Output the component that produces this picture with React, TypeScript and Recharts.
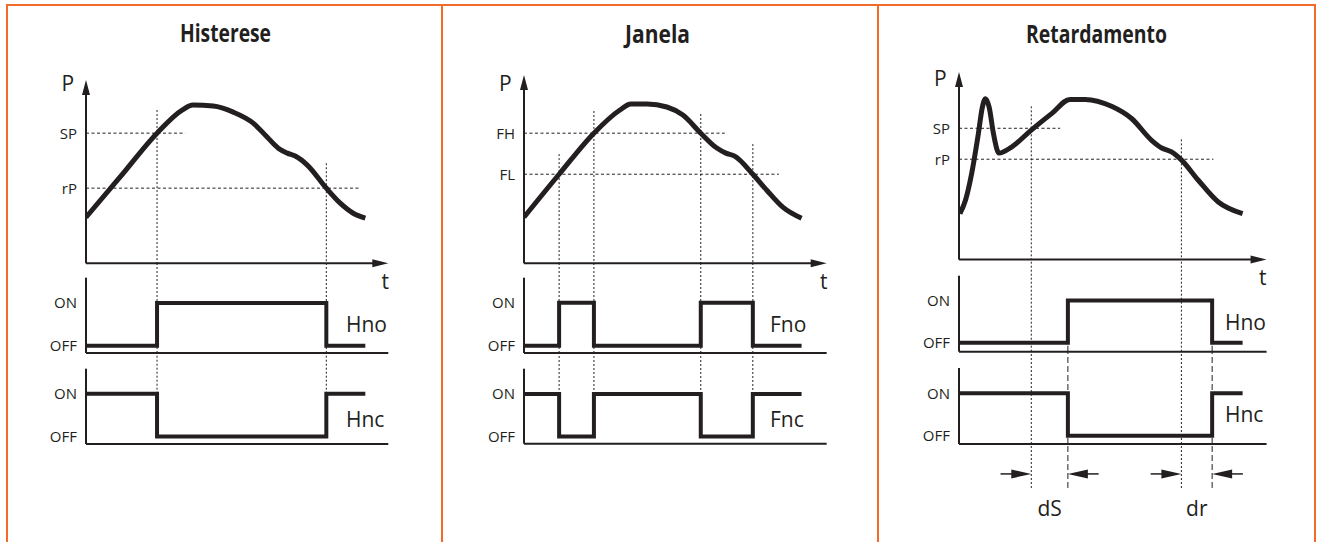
import React from 'react';
import { LineChart, Line, XAxis, YAxis, ReferenceLine } from 'recharts';

const INK = '#231f20';
const ORANGE = '#f26b2a';
const FONT = "'Open Sans', 'Noto Sans', Arial, sans-serif";

// ---------------- data ----------------
const titles = ['Histerese', 'Janela', 'Retardamento'];

// Histerese
const histCurve = [
  { t: 0, p: 25.1 }, { t: 11.3, p: 47.1 }, { t: 23.5, p: 71.0 }, { t: 31.8, p: 83.6 },
  { t: 35.4, p: 86.3 }, { t: 42.1, p: 85.8 }, { t: 48.7, p: 82.5 }, { t: 55.3, p: 76.5 },
  { t: 59.9, p: 68.9 }, { t: 63.6, p: 62.8 }, { t: 66.6, p: 60.1 }, { t: 69.2, p: 58.5 },
  { t: 73.2, p: 53.6 }, { t: 79.5, p: 41.0 }, { t: 84.1, p: 32.8 }, { t: 88.4, p: 27.3 },
  { t: 92.4, p: 24.6 },
];
const histLevels = [{ label: 'SP', p: 71.0, end: 32.8 }, { label: 'rP', p: 41.0, end: 90.7 }];
const histSwitches = [{ t: 23.5, top: 83.6 }, { t: 79.5, top: 54.6 }];
const histNo = [{ t: 0, v: 0 }, { t: 23.5, v: 1 }, { t: 79.5, v: 0 }, { t: 92.4, v: 0 }];
const histNc = [{ t: 0, v: 1 }, { t: 23.5, v: 0 }, { t: 79.5, v: 1 }, { t: 92.4, v: 1 }];
const histOutputs = ['Hno', 'Hnc'];

// Janela
const janCurve = [
  { t: 0, p: 24.5 }, { t: 11.6, p: 47.3 }, { t: 23.1, p: 69.1 }, { t: 31.7, p: 81.4 },
  { t: 35.3, p: 84.6 }, { t: 40.6, p: 84.6 }, { t: 47.2, p: 83.0 }, { t: 52.5, p: 78.7 },
  { t: 58.4, p: 69.1 }, { t: 63.7, p: 61.2 }, { t: 66.7, p: 58.5 }, { t: 69.6, p: 56.9 },
  { t: 75.6, p: 47.3 }, { t: 80.2, p: 38.8 }, { t: 85.5, p: 29.8 }, { t: 91.7, p: 23.9 },
];
const janLevels = [{ label: 'FH', p: 69.1, end: 66.3 }, { label: 'FL', p: 47.3, end: 84.2 }];
const janSwitches = [
  { t: 11.6, top: 58.0 }, { t: 23.1, top: 80.9 }, { t: 58.4, top: 79.3 }, { t: 75.6, top: 63.3 },
];
const janNo = [
  { t: 0, v: 0 }, { t: 11.6, v: 1 }, { t: 23.1, v: 0 }, { t: 58.4, v: 1 }, { t: 75.6, v: 0 }, { t: 91.7, v: 0 },
];
const janNc = [
  { t: 0, v: 1 }, { t: 11.6, v: 0 }, { t: 23.1, v: 1 }, { t: 58.4, v: 0 }, { t: 75.6, v: 1 }, { t: 91.7, v: 1 },
];
const janOutputs = ['Fno', 'Fnc'];

// Retardamento
const retCurve = [
  { t: 0.3, p: 24.5 }, { t: 2.1, p: 31.6 }, { t: 4.1, p: 45.8 }, { t: 6.3, p: 67.2 },
  { t: 7.6, p: 81.3 }, { t: 8.6, p: 85.8 }, { t: 9.8, p: 81.3 }, { t: 11.2, p: 67.2 },
  { t: 13.0, p: 56.8 }, { t: 17.1, p: 60.0 }, { t: 23.4, p: 68.9 }, { t: 30.1, p: 77.8 },
  { t: 36.1, p: 85.4 }, { t: 41.0, p: 85.4 }, { t: 49.6, p: 81.7 }, { t: 56.1, p: 75.2 },
  { t: 62.6, p: 63.6 }, { t: 65.9, p: 59.5 }, { t: 69.1, p: 57.4 }, { t: 72.2, p: 53.3 },
  { t: 77.8, p: 42.3 }, { t: 84.3, p: 30.7 }, { t: 92.2, p: 24.5 },
];
const retLevels = [{ label: 'SP', p: 70.0, end: 32.9 }, { label: 'rP', p: 53.5, end: 82.7 }];
const retSwitches = [{ t: 23.5, top: 81.7 }, { t: 72.3, top: 64.1 }];
const retDelayed = [35.4, 82.3];
const retNo = [{ t: 0, v: 0 }, { t: 35.4, v: 1 }, { t: 82.3, v: 0 }, { t: 92.2, v: 0 }];
const retNc = [{ t: 0, v: 1 }, { t: 35.4, v: 0 }, { t: 82.3, v: 1 }, { t: 92.2, v: 1 }];
const retDelays = [
  { t: 29.45, name: 'dS', from: 23.5, to: 35.4 },
  { t: 77.3, name: 'dr', from: 72.3, to: 82.3 },
];
const retOutputs = ['Hno', 'Hnc'];

// ---------------- layout ----------------
type Band = { top: number; bottom: number; on: number; off: number; axisTop: number };
type Layout = {
  x0: number; x1: number; top: number; axisY: number; no: Band; nc: Band;
  title: { cx: number; y: number; w: number };
  pLabel: { x: number; y: number }; tLabel: { x: number; y: number };
  noLabel: { x: number; y: number }; ncLabel: { x: number; y: number };
  delay?: { bottom: number; arrowLevel: number };
};

const AXIS_W = 70;
const ARROW_TAIL = 10;
const TICK_SIZE = 15;

const layouts: Layout[] = [
  {
    x0: 86, x1: 388.3, top: 80, axisY: 263.3,
    no: { top: 263.3, bottom: 353.3, on: 303.3, off: 346, axisTop: 278 },
    nc: { top: 353.3, bottom: 444.3, on: 394, off: 436.7, axisTop: 369 },
    title: { cx: 225.5, y: 42, w: 91 },
    pLabel: { x: 61.5, y: 91 }, tLabel: { x: 381.5, y: 289 },
    noLabel: { x: 346, y: 332 }, ncLabel: { x: 346, y: 427 },
  },
  {
    x0: 524, x1: 826.7, top: 75, axisY: 263.3,
    no: { top: 263.3, bottom: 353.3, on: 303, off: 346, axisTop: 278 },
    nc: { top: 353.3, bottom: 444, on: 394.3, off: 436.7, axisTop: 369 },
    title: { cx: 657.5, y: 42.5, w: 65 },
    pLabel: { x: 499, y: 91 }, tLabel: { x: 820, y: 289 },
    noLabel: { x: 770, y: 332 }, ncLabel: { x: 770, y: 427 },
  },
  {
    x0: 958.7, x1: 1266.3, top: 71.7, axisY: 259.3,
    no: { top: 259.3, bottom: 352, on: 300.7, off: 343, axisTop: 276 },
    nc: { top: 352, bottom: 444, on: 393.3, off: 435.7, axisTop: 368 },
    title: { cx: 1096.5, y: 42.5, w: 141 },
    pLabel: { x: 934, y: 86 }, tLabel: { x: 1259, y: 285 },
    noLabel: { x: 1225, y: 330 }, ncLabel: { x: 1225, y: 422 },
    delay: { bottom: 488, arrowLevel: 0.32 },
  },
];

// ---------------- shapes ----------------
const arrowShape = (headLen: number, headW: number, sw: number) => (props: any) => {
  const { x1, y1, x2, y2 } = props;
  const dx = x2 - x1;
  const dy = y2 - y1;
  const len = Math.hypot(dx, dy) || 1;
  const ux = dx / len;
  const uy = dy / len;
  const bx = x2 - ux * headLen;
  const by = y2 - uy * headLen;
  const px = (-uy * headW) / 2;
  const py = (ux * headW) / 2;
  return (
    <g>
      <line x1={x1} y1={y1} x2={bx + ux * 1} y2={by + uy * 1} stroke={INK} strokeWidth={sw} />
      <polygon points={`${x2},${y2} ${bx + px},${by + py} ${bx - px},${by - py}`} fill={INK} />
    </g>
  );
};

const makeTick = (fmt: (v: number) => string, size: number, vertical: boolean) => (props: any) => {
  const { x, y, payload } = props;
  return (
    <text
      x={x}
      y={y}
      dy={vertical ? '0.36em' : '0.71em'}
      textAnchor={vertical ? 'end' : 'middle'}
      fontSize={size}
      fill={INK}
      fontFamily={FONT}
    >
      {fmt(payload.value)}
    </text>
  );
};

type PanelData = {
  curve: { t: number; p: number }[];
  levels: { label: string; p: number; end: number }[];
  switches: { t: number; top: number }[];
  no: { t: number; v: number }[];
  nc: { t: number; v: number }[];
  delayed?: number[];
  delays?: { t: number; name: string; from: number; to: number }[];
};

function CurveChart({ L, d }: { L: Layout; d: PanelData }) {
  const fmt = (v: number) => d.levels.find((l) => l.p === v)?.label ?? '';
  return (
    <div style={{ position: 'absolute', left: L.x0 - AXIS_W, top: L.top }}>
      <LineChart
        width={AXIS_W + L.x1 - L.x0}
        height={L.axisY - L.top}
        data={d.curve}
        margin={{ top: 0, right: 0, bottom: 0, left: 0 }}
      >
        <XAxis type="number" dataKey="t" domain={[0, 100]} hide allowDataOverflow />
        <YAxis
          type="number"
          domain={[0, 100]}
          allowDataOverflow
          width={AXIS_W}
          ticks={d.levels.map((l) => l.p)}
          interval={0}
          axisLine={false}
          tickLine={false}
          tickSize={0}
          tickMargin={9}
          tick={makeTick(fmt, TICK_SIZE, true)}
        />
        {d.levels.map((l) => (
          <ReferenceLine
            key={l.label}
            segment={[{ x: 0, y: l.p }, { x: l.end, y: l.p }]}
            stroke={INK}
            strokeWidth={1}
            strokeDasharray="3 2.5"
            ifOverflow="visible"
          />
        ))}
        {d.switches.map((s) => (
          <ReferenceLine
            key={'s' + s.t}
            segment={[{ x: s.t, y: s.top }, { x: s.t, y: 0 }]}
            stroke={INK}
            strokeWidth={1}
            strokeDasharray="2 2"
            ifOverflow="visible"
          />
        ))}
        <ReferenceLine segment={[{ x: 0, y: 0 }, { x: 0, y: 100 }]} shape={arrowShape(15, 8, 2)} ifOverflow="visible" />
        <ReferenceLine segment={[{ x: 0, y: 0 }, { x: 100, y: 0 }]} shape={arrowShape(16, 8, 2)} ifOverflow="visible" />
        <Line
          dataKey="p"
          type="monotone"
          stroke={INK}
          strokeWidth={5}
          dot={false}
          activeDot={false}
          isAnimationActive={false}
        />
      </LineChart>
    </div>
  );
}

function StepChart({
  L, band, data, switches, switchEnd, delayed, delayedFromOff,
}: {
  L: Layout; band: Band; data: { t: number; v: number }[]; switches: number[];
  switchEnd: 'full' | 'on'; delayed?: number[]; delayedFromOff?: boolean;
}) {
  const unit = band.off - band.on;
  const min = -(band.bottom - band.off) / unit;
  const max = (band.off - band.top) / unit;
  const axisTop = (band.off - band.axisTop) / unit;
  const fmt = (v: number) => (v === 1 ? 'ON' : 'OFF');
  return (
    <div style={{ position: 'absolute', left: L.x0 - AXIS_W, top: band.top }}>
      <LineChart
        width={AXIS_W + L.x1 - L.x0}
        height={band.bottom - band.top}
        data={data}
        margin={{ top: 0, right: 0, bottom: 0, left: 0 }}
      >
        <XAxis type="number" dataKey="t" domain={[0, 100]} hide allowDataOverflow />
        <YAxis
          type="number"
          domain={[min, max]}
          allowDataOverflow
          width={AXIS_W}
          ticks={[0, 1]}
          interval={0}
          axisLine={false}
          tickLine={false}
          tickSize={0}
          tickMargin={9}
          tick={makeTick(fmt, TICK_SIZE, true)}
        />
        {switches.map((t) => (
          <ReferenceLine
            key={'s' + t}
            segment={[{ x: t, y: switchEnd === 'on' ? 1 : min }, { x: t, y: max }]}
            stroke={INK}
            strokeWidth={1}
            strokeDasharray="2 2"
            ifOverflow="visible"
          />
        ))}
        {(delayed ?? []).map((t) => (
          <ReferenceLine
            key={'d' + t}
            segment={[{ x: t, y: min }, { x: t, y: delayedFromOff ? 0 : max }]}
            stroke={INK}
            strokeWidth={1}
            strokeDasharray="6 3"
            ifOverflow="visible"
          />
        ))}
        <ReferenceLine segment={[{ x: 0, y: min }, { x: 0, y: axisTop }]} stroke={INK} strokeWidth={2} ifOverflow="visible" />
        <ReferenceLine segment={[{ x: 0, y: min }, { x: 100, y: min }]} stroke={INK} strokeWidth={2} ifOverflow="visible" />
        <Line
          dataKey="v"
          type="stepAfter"
          stroke={INK}
          strokeWidth={4}
          strokeLinejoin="miter"
          strokeLinecap="butt"
          dot={false}
          activeDot={false}
          isAnimationActive={false}
        />
      </LineChart>
    </div>
  );
}

function DelayChart({ L, d }: { L: Layout; d: PanelData }) {
  const dl = L.delay!;
  const h = dl.bottom - L.nc.bottom;
  const delays = d.delays ?? [];
  const fmt = (v: number) => delays.find((x) => x.t === v)?.name ?? '';
  return (
    <div style={{ position: 'absolute', left: L.x0 - AXIS_W, top: L.nc.bottom }}>
      <LineChart
        width={AXIS_W + L.x1 - L.x0}
        height={h + 36}
        data={delays}
        margin={{ top: 0, right: 0, bottom: 0, left: 0 }}
      >
        <XAxis
          type="number"
          dataKey="t"
          domain={[0, 100]}
          allowDataOverflow
          ticks={delays.map((x) => x.t)}
          interval={0}
          axisLine={false}
          tickLine={false}
          tickSize={0}
          tickMargin={13}
          height={36}
          tick={makeTick(fmt, 21, false)}
        />
        <YAxis
          type="number"
          domain={[0, 1]}
          allowDataOverflow
          width={AXIS_W}
          tick={false}
          axisLine={false}
          tickLine={false}
        />
        <Line
          dataKey={() => dl.arrowLevel}
          stroke="none"
          dot={false}
          activeDot={false}
          isAnimationActive={false}
        />
        {d.switches.map((s) => (
          <ReferenceLine
            key={'s' + s.t}
            segment={[{ x: s.t, y: 0 }, { x: s.t, y: 1 }]}
            stroke={INK}
            strokeWidth={1}
            strokeDasharray="2 2"
            ifOverflow="visible"
          />
        ))}
        {(d.delayed ?? []).map((t) => (
          <ReferenceLine
            key={'d' + t}
            segment={[{ x: t, y: 0 }, { x: t, y: 1 }]}
            stroke={INK}
            strokeWidth={1}
            strokeDasharray="6 3"
            ifOverflow="visible"
          />
        ))}
        {delays.map((x) => (
          <ReferenceLine
            key={'a1' + x.name}
            segment={[{ x: x.from - ARROW_TAIL, y: dl.arrowLevel }, { x: x.from, y: dl.arrowLevel }]}
            shape={arrowShape(20, 9, 1.5)}
            ifOverflow="visible"
          />
        ))}
        {delays.map((x) => (
          <ReferenceLine
            key={'a2' + x.name}
            segment={[{ x: x.to + ARROW_TAIL, y: dl.arrowLevel }, { x: x.to, y: dl.arrowLevel }]}
            shape={arrowShape(20, 9, 1.5)}
            ifOverflow="visible"
          />
        ))}
      </LineChart>
    </div>
  );
}

function Panel({ L, d }: { L: Layout; d: PanelData }) {
  const sw = d.switches.map((s) => s.t);
  return (
    <>
      <CurveChart L={L} d={d} />
      <StepChart L={L} band={L.no} data={d.no} switches={sw} switchEnd="full" delayed={d.delayed} delayedFromOff />
      <StepChart
        L={L}
        band={L.nc}
        data={d.nc}
        switches={sw}
        switchEnd={L.delay ? 'full' : 'on'}
        delayed={d.delayed}
      />
      {L.delay && <DelayChart L={L} d={d} />}
    </>
  );
}

const panels: PanelData[] = [
  { curve: histCurve, levels: histLevels, switches: histSwitches, no: histNo, nc: histNc },
  { curve: janCurve, levels: janLevels, switches: janSwitches, no: janNo, nc: janNc },
  {
    curve: retCurve, levels: retLevels, switches: retSwitches, no: retNo, nc: retNc,
    delayed: retDelayed, delays: retDelays,
  },
];
const outputs = [histOutputs, janOutputs, retOutputs];

export default function App() {
  return (
    <div
      style={{
        position: 'absolute', left: 0, top: 0, width: 1319, height: 542,
        background: '#ffffff', overflow: 'hidden',
      }}
    >
      <style>{`.recharts-surface{overflow:visible}`}</style>
      {/* orange frame */}
      <div style={{ position: 'absolute', left: 6, top: 3.5, width: 1310, height: 2, background: ORANGE }} />
      <div style={{ position: 'absolute', left: 6, top: 3.5, width: 2, height: 540, background: ORANGE }} />
      <div style={{ position: 'absolute', left: 440.7, top: 3.5, width: 2, height: 540, background: ORANGE }} />
      <div style={{ position: 'absolute', left: 877, top: 3.5, width: 2, height: 540, background: ORANGE }} />
      <div style={{ position: 'absolute', left: 1314, top: 3.5, width: 2, height: 540, background: ORANGE }} />

      {layouts.map((L, i) => (
        <Panel key={i} L={L} d={panels[i]} />
      ))}

      <svg
        width={1319}
        height={542}
        style={{ position: 'absolute', left: 0, top: 0, pointerEvents: 'none' }}
      >
        {layouts.map((L, i) => (
          <g key={i} fill={INK} fontFamily={FONT}>
            <text
              x={L.title.cx - L.title.w / 2}
              y={L.title.y}
              fontSize={25}
              fontWeight={700}
              textLength={L.title.w}
              lengthAdjust="spacingAndGlyphs"
            >
              {titles[i]}
            </text>
            <text x={L.pLabel.x} y={L.pLabel.y} fontSize={21}>P</text>
            <text x={L.tLabel.x} y={L.tLabel.y} fontSize={21}>t</text>
            <text x={L.noLabel.x} y={L.noLabel.y} fontSize={21}>{outputs[i][0]}</text>
            <text x={L.ncLabel.x} y={L.ncLabel.y} fontSize={21}>{outputs[i][1]}</text>
          </g>
        ))}
      </svg>
    </div>
  );
}
